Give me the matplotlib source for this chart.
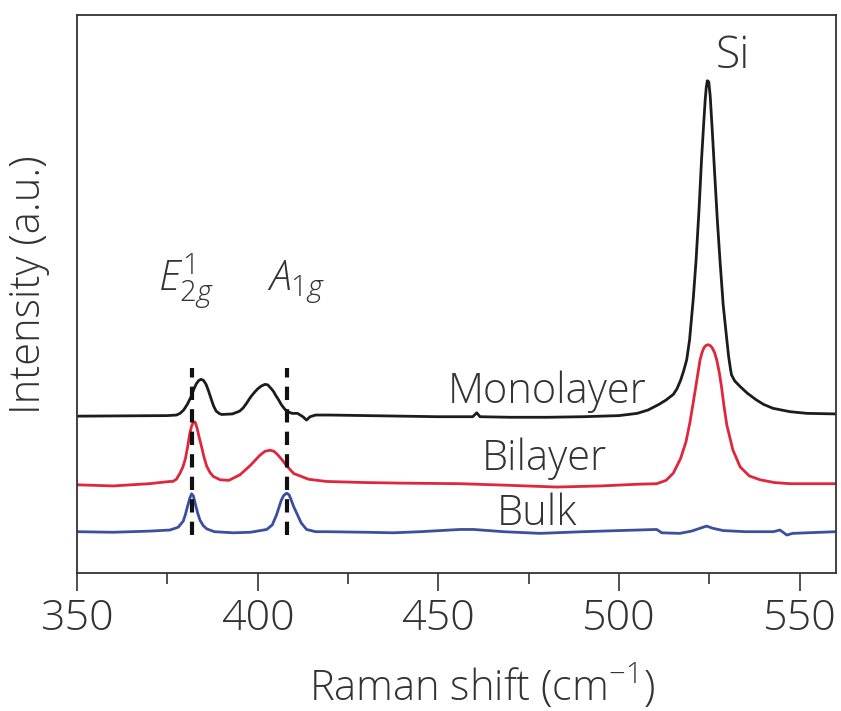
import matplotlib
matplotlib.use("Agg")
import matplotlib.pyplot as plt
from matplotlib.ticker import MultipleLocator

plt.rcParams["font.family"] = ["Open Sans", "DejaVu Sans"]
plt.rcParams["font.weight"] = "light"
plt.rcParams["axes.labelweight"] = "light"
plt.rcParams["mathtext.fontset"] = "custom"
plt.rcParams["mathtext.rm"] = "Open Sans:light"
plt.rcParams["mathtext.it"] = "Open Sans:italic:light"

# Raman spectra (x in cm^-1, intensity in arbitrary units)
mono_x = [350, 375, 377.5, 378.5, 379.5, 380.5, 381.5, 382.3, 383, 383.7, 384.3, 385,
          385.7, 386.4, 387.1, 387.8, 388.5, 389.3, 390, 393, 395, 396, 397, 398, 399,
          400, 401, 402, 402.8, 403.5, 404.3, 405, 405.8, 406.5, 407.3, 408, 409.5,
          411, 412.5, 413.5, 414.5, 416, 420, 430, 440, 450, 459.5, 460.6, 461.5, 470,
          480, 490, 500, 505, 508, 511, 513, 515, 516, 517, 517.9, 518.7, 519.5, 520.5,
          521.3, 522.1, 522.8, 523.4, 523.8, 524.1, 524.4, 524.8, 525.2, 525.8, 526.4,
          527.2, 527.9, 528.8, 529.8, 530.3, 530.8, 531.1, 532.0, 533.5, 535.5, 538,
          540, 542.6, 547.3, 552, 560]
mono_y = [28.1, 28.2, 28.3, 28.6, 29.2, 30.2, 31.5, 32.9, 33.9, 34.5, 34.7, 34.5,
          33.8, 32.6, 31.2, 29.9, 29.0, 28.6, 28.4, 28.5, 29.0, 29.6, 30.5, 31.5, 32.3,
          33.0, 33.5, 33.8, 33.7, 33.2, 32.6, 31.8, 31.0, 30.2, 29.5, 29.0, 28.6,
          28.6, 28.0, 27.4, 28.0, 28.3, 28.3, 28.2, 28.1, 28.0, 28.0, 28.7, 28.0, 27.9,
          27.9, 28.0, 28.2, 28.6, 29.2, 30.2, 31.0, 32.0, 33.0, 34.5, 36.3, 38.2, 41.8, 49.0,
          56.1, 65.0, 74.0, 80.5, 84.6, 86.9, 88.2, 88.0, 85.5, 79.0, 72.0,
          63.0, 56.1, 48.0, 41.8, 38.8, 36.6, 35.5, 34.4, 33.4, 32.2, 31.0,
          30.2, 29.5, 28.9, 28.6, 28.5]

bi_x = [350, 360, 370, 375.7, 376.5, 377.5, 378.5, 379.3, 380, 380.6, 381.2, 381.7,
        382.2, 382.7, 383.2, 383.8, 384.5, 385.2, 385.9, 386.8, 387.7, 389.6, 392,
        395.1, 398, 400.6, 402, 403.4, 404.5, 405.5, 406.7, 408, 410, 411.7, 414, 419,
        430, 440, 456, 470, 482.7, 495, 505, 510.4, 513, 515, 517, 518.5, 519.6, 521,
        522.4, 523.0, 523.5, 524.1, 524.7, 525.3, 525.8, 526.4, 527, 527.7, 528.3,
        529.0, 529.8, 531.5, 533.5, 536, 539, 543, 547.3, 560]
bi_y = [15.8, 15.6, 16.0, 16.4, 16.4, 16.8, 17.9, 19.0, 20.5, 22.6, 25.0, 26.3,
        27.1, 27.0, 26.0, 24.3, 22.5, 20.6, 19.1, 18.0, 17.3, 16.7, 16.6,
        17.6, 19.3, 21.1, 21.8, 22.0, 21.8, 21.2, 20.3, 19.2, 17.8, 17.4, 16.8, 16.4,
        16.2, 16.1, 16.0, 15.7, 15.4, 15.6, 15.9, 16.0, 16.6, 17.9, 20.5, 23.5, 27.0, 32.5,
        38.2, 39.6, 40.4, 40.8, 40.9, 40.7, 40.3, 39.5, 38.2, 36.0, 33.5,
        30.0, 26.5, 22.0, 19.0, 17.4, 16.7, 16.2, 16.0, 16.0]

bulk_x = [350, 360, 370, 375.7, 378, 379.4, 380, 380.6, 381.2, 381.7, 382.2, 382.8,
          383.4, 384, 384.9, 385.9, 388, 393.2, 398, 402.5, 404, 405.2, 405.9, 406.5,
          407.2, 408, 408.7, 409.3, 410, 410.8, 412, 413.5, 416, 419.1, 430, 437.5, 445,
          456, 459.7, 468, 478.1, 490, 500, 510.4, 511.8, 516.8, 520, 524.2, 526, 528.8,
          535, 542.7, 544.5, 546.4, 548, 551.9, 556, 560]
bulk_y = [7.4, 7.3, 7.5, 7.7, 8.2, 9.3, 10.5, 12.0, 13.4, 14.2, 13.8, 12.2,
          10.7, 9.5, 8.5, 7.9, 7.4, 7.2, 7.3, 7.8, 8.6, 10.4, 11.8, 13.0,
          13.9, 14.3, 14.0, 13.0, 11.8, 10.7, 9.0, 7.8, 7.4, 7.4, 7.3, 7.2, 7.4,
          7.8, 7.8, 7.4, 7.1, 7.4, 7.6, 7.8, 7.2, 7.1, 7.5, 8.4, 8.0, 7.6,
          7.4, 7.4, 7.7, 6.8, 7.1, 7.2, 7.3, 7.4]

mode_positions = [381.7, 408.0]
mode_span = [6.8, 36.7]

x_ticks = [350, 400, 450, 500, 550]

text_color = "#333333"
fs = 30

fig = plt.figure(figsize=(8.41, 7.11), dpi=100)
ax = fig.add_axes([0.0916, 0.1941, 0.9024, 0.785])

ax.plot(mono_x, mono_y, color="#1c1c1c", lw=2.0, solid_joinstyle="round")
ax.plot(bi_x, bi_y, color="#e0263a", lw=2.0, solid_joinstyle="round")
ax.plot(bulk_x, bulk_y, color="#3b4f9c", lw=2.0, solid_joinstyle="round")

for xm in mode_positions:
    ax.vlines(xm, mode_span[0], mode_span[1], colors="#111111", lw=3.0,
              linestyles=(0, (3.2, 2.2)))

# Labels
ax.text(531.5, 90.5, "Si", fontsize=fs + 2, color=text_color, ha="center", va="baseline")
ax.text(480.2, 30.5, "Monolayer", fontsize=fs, color=text_color, ha="center", va="baseline")
ax.text(479.2, 18.5, "Bilayer", fontsize=fs, color=text_color, ha="center", va="baseline")
ax.text(477.3, 8.6, "Bulk", fontsize=fs, color=text_color, ha="center", va="baseline")
ax.text(372.5, 50.7, r"$E^{1}_{2g}$", fontsize=fs, color=text_color, ha="left", va="baseline")
ax.text(402.5, 50.7, r"$A_{1g}$", fontsize=fs, color=text_color, ha="left", va="baseline")

ax.set_xlim(350, 560)
ax.set_ylim(0, 100)
ax.set_xticks(x_ticks)
ax.xaxis.set_minor_locator(MultipleLocator(25))
ax.set_yticks([])
ax.tick_params(axis="x", which="major", direction="out", length=13, width=1.2,
               pad=5, labelsize=fs + 1, colors="#333333", labelcolor=text_color)
ax.tick_params(axis="x", which="minor", direction="out", length=8, width=1.2,
               colors="#333333")
for spine in ax.spines.values():
    spine.set_color("#333333")
    spine.set_linewidth(1.3)

ax.set_xlabel(r"Raman shift (cm$^{-1}$)", fontsize=fs, color=text_color)
ax.xaxis.set_label_coords(0.534, -0.161)
ax.set_ylabel("Intensity (a.u.)", fontsize=fs, color=text_color)
ax.yaxis.set_label_coords(-0.036, 0.516)

fig.savefig("out.png", dpi=100)
